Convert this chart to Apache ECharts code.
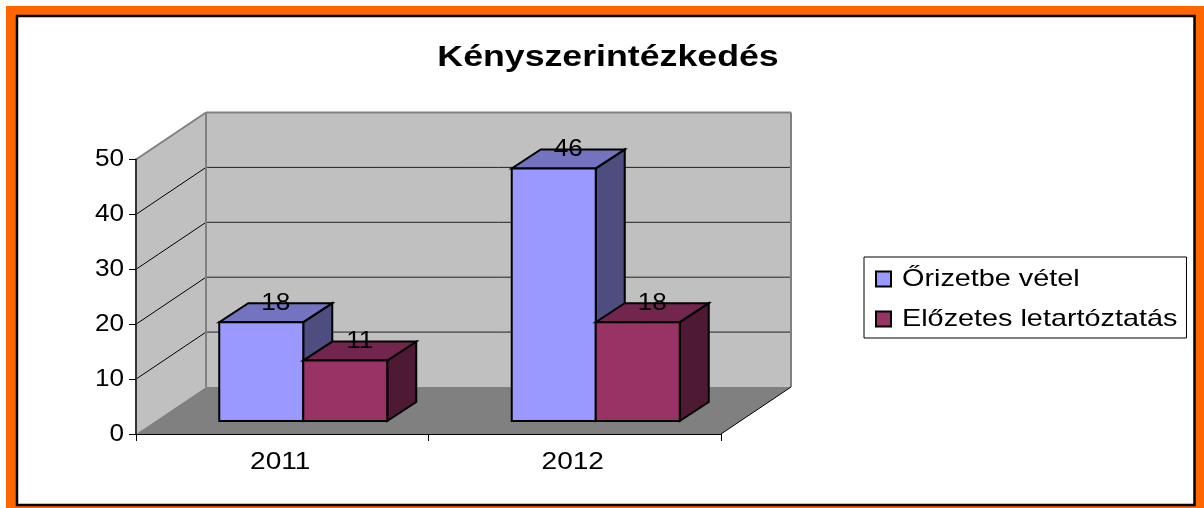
<!DOCTYPE html>
<html><head><meta charset="utf-8">
<style>html,body{margin:0;padding:0;background:#fff}#c{width:1204px;height:508px}</style>
<script src="https://cdn.jsdelivr.net/npm/echarts@6/dist/echarts.min.js"></script>
</head><body><div id="c"></div>
<script>
const titleText = 'Kényszerintézkedés';
const categories = ['2011', '2012'];
const seriesNames = ['Őrizetbe vétel', 'Előzetes letartóztatás'];
const orizetbeVetel = [18, 46];
const elozetesLetartoztatas = [11, 18];
const gridLevels = [10, 20, 30, 40];
const FONT = '"Liberation Sans", Arial, sans-serif';

const DEPTH = [70, -47];          // wall depth projection
const BAR_SHIFT = [21, -13];      // bar front face offset from the axis plane
const BAR_DEPTH = [29, -19];      // bar depth projection
const BAR_BAND = 0.2872;          // bar width as share of category band

const palette = [
  {front: '#9999FF', top: '#7373BF', side: '#4D4D80'},
  {front: '#993366', top: '#73264D', side: '#4D1933'}
];

function poly(points, fill, stroke, w) {
  return {type: 'polygon', shape: {points: points},
    style: {fill: fill, stroke: stroke || null, lineWidth: w || 0, lineJoin: 'miter'}};
}
function line(a, b, stroke, w) {
  return {type: 'line', shape: {x1: a[0], y1: a[1], x2: b[0], y2: b[1]},
    style: {stroke: stroke, lineWidth: w, fill: null}};
}

function renderWalls(params, api) {
  const band = api.size([1, 0])[0];
  const xL = api.coord([0, 0])[0] - band / 2;
  const xR = api.coord([categories.length - 1, 0])[0] + band / 2;
  const y0 = api.coord([0, 0])[1];
  const yMax = api.coord([0, 50])[1];
  const dx = DEPTH[0], dy = DEPTH[1];
  const kids = [
    poly([[xL, y0], [xL + dx, y0 + dy], [xL + dx, yMax + dy], [xL, yMax]], '#C0C0C0'),
    poly([[xL + dx, y0 + dy], [xR + dx, y0 + dy], [xR + dx, yMax + dy], [xL + dx, yMax + dy]], '#C0C0C0'),
    poly([[xL, y0], [xR, y0], [xR + dx, y0 + dy], [xL + dx, y0 + dy]], '#808080')
  ];
  gridLevels.forEach(function (v) {
    const y = api.coord([0, v])[1];
    kids.push(line([xL, y], [xL + dx, y + dy], '#000', 1));
    kids.push(line([xL + dx, y + dy], [xR + dx, y + dy], '#222', 1));
  });
  kids.push(line([xL, yMax], [xL + dx, yMax + dy], '#808080', 2));
  kids.push(line([xL + dx, yMax + dy], [xR + dx, yMax + dy], '#808080', 2));
  kids.push(line([xR + dx, yMax + dy], [xR + dx, y0 + dy], '#808080', 2));
  kids.push(line([xL + dx, yMax + dy], [xL + dx, y0 + dy], '#808080', 2));
  kids.push(line([xR, y0], [xR + dx, y0 + dy], '#000', 1));
  return {type: 'group', children: kids};
}

function makeBar(slot) {
  return function (params, api) {
    const c = palette[slot];
    const cat = api.value(0), v = api.value(1);
    const band = api.size([1, 0])[0];
    const w = band * BAR_BAND;
    const base = api.coord([cat, 0]);
    const top = api.coord([cat, v]);
    const x0 = base[0] + BAR_SHIFT[0] + (slot - 1) * w;
    const x1 = x0 + w;
    const yb = base[1] + BAR_SHIFT[1];
    const yt = top[1] + BAR_SHIFT[1];
    const dx = BAR_DEPTH[0], dy = BAR_DEPTH[1];
    return {type: 'group', children: [
      poly([[x1, yb], [x1 + dx, yb + dy], [x1 + dx, yt + dy], [x1, yt]], c.side, '#000', 2),
      poly([[x0, yt], [x1, yt], [x1 + dx, yt + dy], [x0 + dx, yt + dy]], c.top, '#000', 2),
      poly([[x0, yb], [x1, yb], [x1, yt], [x0, yt]], c.front, '#000', 2),
      {type: 'text', style: {
        x: (x0 + x1 + dx) / 2, y: yt + dy, text: String(v),
        fill: '#000', font: '24px ' + FONT, align: 'center', verticalAlign: 'middle'
      }}
    ]};
  };
}

const chart = echarts.init(document.getElementById('c'), null, {renderer: 'canvas', width: 1204, height: 508});
chart.setOption({
  animation: false,
  backgroundColor: '#fff',
  title: {text: titleText, left: 603, top: 53, textAlign: 'center', textVerticalAlign: 'middle',
    textStyle: {fontFamily: FONT, fontWeight: 'bold', fontSize: 30, color: '#000'}},
  graphic: [
    {type: 'rect', silent: true, z: -10, shape: {x: 6, y: 6, width: 1198, height: 502}, style: {fill: '#FF6600'}},
    {type: 'rect', silent: true, z: -9, shape: {x: 17, y: 16, width: 1177.5, height: 489}, style: {fill: '#fff', stroke: '#000', lineWidth: 2.5}}
  ],
  grid: {left: 136, top: 159.5, right: 483, bottom: 74},
  legend: {
    orient: 'vertical', left: 864, top: 257, padding: [10, 61, 7, 11],
    borderColor: '#000', borderWidth: 1, backgroundColor: '#fff',
    itemWidth: 15, itemHeight: 15, itemGap: 16,
    icon: 'rect', data: seriesNames,
    itemStyle: {borderColor: '#000', borderWidth: 2},
    textStyle: {fontFamily: FONT, fontSize: 24, color: '#000', lineHeight: 24}
  },
  xAxis: {type: 'category', data: categories, z: 5,
    axisLine: {lineStyle: {color: '#000', width: 1}},
    axisTick: {show: true, alignWithLabel: false, length: 7, lineStyle: {color: '#000'}},
    axisLabel: {fontFamily: FONT, fontSize: 24, color: '#000', margin: 16}},
  yAxis: {type: 'value', min: 0, max: 50, interval: 10, z: 5,
    axisLine: {show: true, lineStyle: {color: '#333', width: 2}},
    axisTick: {show: true, length: 7, lineStyle: {color: '#000'}},
    splitLine: {show: false},
    axisLabel: {fontFamily: FONT, fontSize: 24, color: '#000', margin: 12}},
  series: [
    {type: 'custom', name: '__walls', silent: true, z: 1, renderItem: renderWalls,
      data: [[0, 0]], encode: {x: 0, y: 1}},
    {type: 'custom', name: seriesNames[0], z: 2, renderItem: makeBar(0), itemStyle: {color: palette[0].front},
      data: orizetbeVetel.map(function (v, i) { return [i, v]; }), encode: {x: 0, y: 1}},
    {type: 'custom', name: seriesNames[1], z: 3, renderItem: makeBar(1), itemStyle: {color: palette[1].front},
      data: elozetesLetartoztatas.map(function (v, i) { return [i, v]; }), encode: {x: 0, y: 1}}
  ]
});

// The reference's type is stretched horizontally; widen each text around its anchor.
const zr = chart.getZr();
zr.storage.getDisplayList(true).forEach(function (el) {
  const t = el.style && el.style.text;
  if (typeof t !== 'string' || !t) return;
  let k = 1.09;
  if (t === titleText) k = 1.19;
  else if (seriesNames.indexOf(t) >= 0) { k = 1.2; el.x = (el.x || 0) + 6; }
  else if (categories.indexOf(t) >= 0) { k = 1.17; el.x = (el.x || 0) - 2; }
  el.originX = el.style.x || 0;
  el.scaleX = k;
  el.dirty && el.dirty();
});
zr.refreshImmediately();
</script></body></html>
